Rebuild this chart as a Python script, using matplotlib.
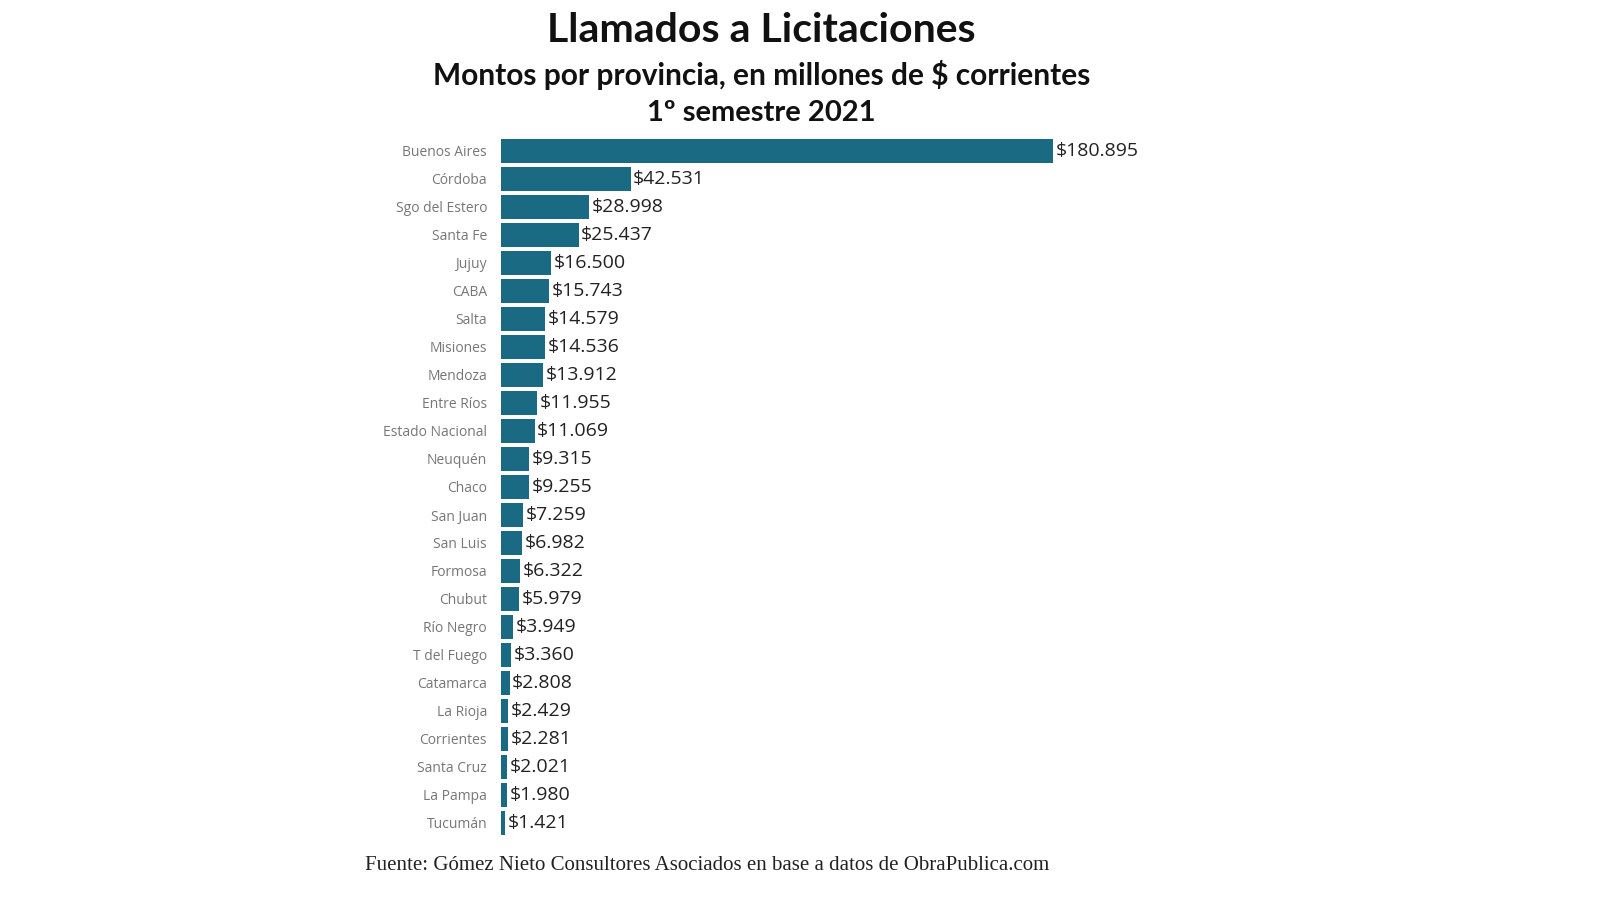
import matplotlib.pyplot as plt

provincias = ["Buenos Aires", "Córdoba", "Sgo del Estero", "Santa Fe", "Jujuy", "CABA", "Salta",
              "Misiones", "Mendoza", "Entre Ríos", "Estado Nacional", "Neuquén", "Chaco", "San Juan",
              "San Luis", "Formosa", "Chubut", "Río Negro", "T del Fuego", "Catamarca", "La Rioja",
              "Corrientes", "Santa Cruz", "La Pampa", "Tucumán"]
montos = [180895, 42531, 28998, 25437, 16500, 15743, 14579, 14536, 13912, 11955, 11069, 9315,
          9255, 7259, 6982, 6322, 5979, 3949, 3360, 2808, 2429, 2281, 2021, 1980, 1421]
etiquetas = ["$180.895", "$42.531", "$28.998", "$25.437", "$16.500", "$15.743", "$14.579",
             "$14.536", "$13.912", "$11.955", "$11.069", "$9.315", "$9.255", "$7.259", "$6.982",
             "$6.322", "$5.979", "$3.949", "$3.360", "$2.808", "$2.429", "$2.281", "$2.021",
             "$1.980", "$1.421"]

plt.rcParams['font.family'] = ['Open Sans', 'DejaVu Sans']

fig = plt.figure(figsize=(16, 9), dpi=100)
ax = fig.add_axes([501/1600, 1 - 837/900, 652/1600, 700/900])

ypos = list(range(len(provincias)))
ax.barh(ypos, montos, height=0.86, color='#1b6a84')
for y, v, t in zip(ypos, montos, etiquetas):
    ax.text(v + 800, y, t, va='center', ha='left', fontsize=14, color='#222222')

ax.set_ylim(len(provincias) - 0.5, -0.5)
ax.set_xlim(0, 180895 * 652 / 552)
ax.set_yticks(ypos)
ax.set_yticklabels(provincias, fontsize=10, color='#777777')
ax.tick_params(axis='y', length=0, pad=10)
ax.set_xticks([])
for s in ax.spines.values():
    s.set_visible(False)

tit = ['Lato', 'DejaVu Sans']
fig.text(0.476, 1 - 30/900, "Llamados a Licitaciones", ha='center', va='center',
         fontsize=29.5, fontweight='bold', color='#111111', family=tit)
fig.text(0.476, 1 - 75/900, "Montos por provincia, en millones de $ corrientes", ha='center',
         va='center', fontsize=21.5, fontweight='bold', color='#111111', family=tit)
fig.text(0.476, 1 - 113/900, "1º semestre 2021", ha='center', va='center',
         fontsize=21, fontweight='bold', color='#111111', family=tit)
fig.text(365/1600, 1 - 865/900, "Fuente: Gómez Nieto Consultores Asociados en base a datos de ObraPublica.com",
         ha='left', va='center', fontsize=15, color='#222222', family=['Liberation Serif', 'DejaVu Serif'])

fig.savefig("out.png", dpi=100, facecolor='white')
